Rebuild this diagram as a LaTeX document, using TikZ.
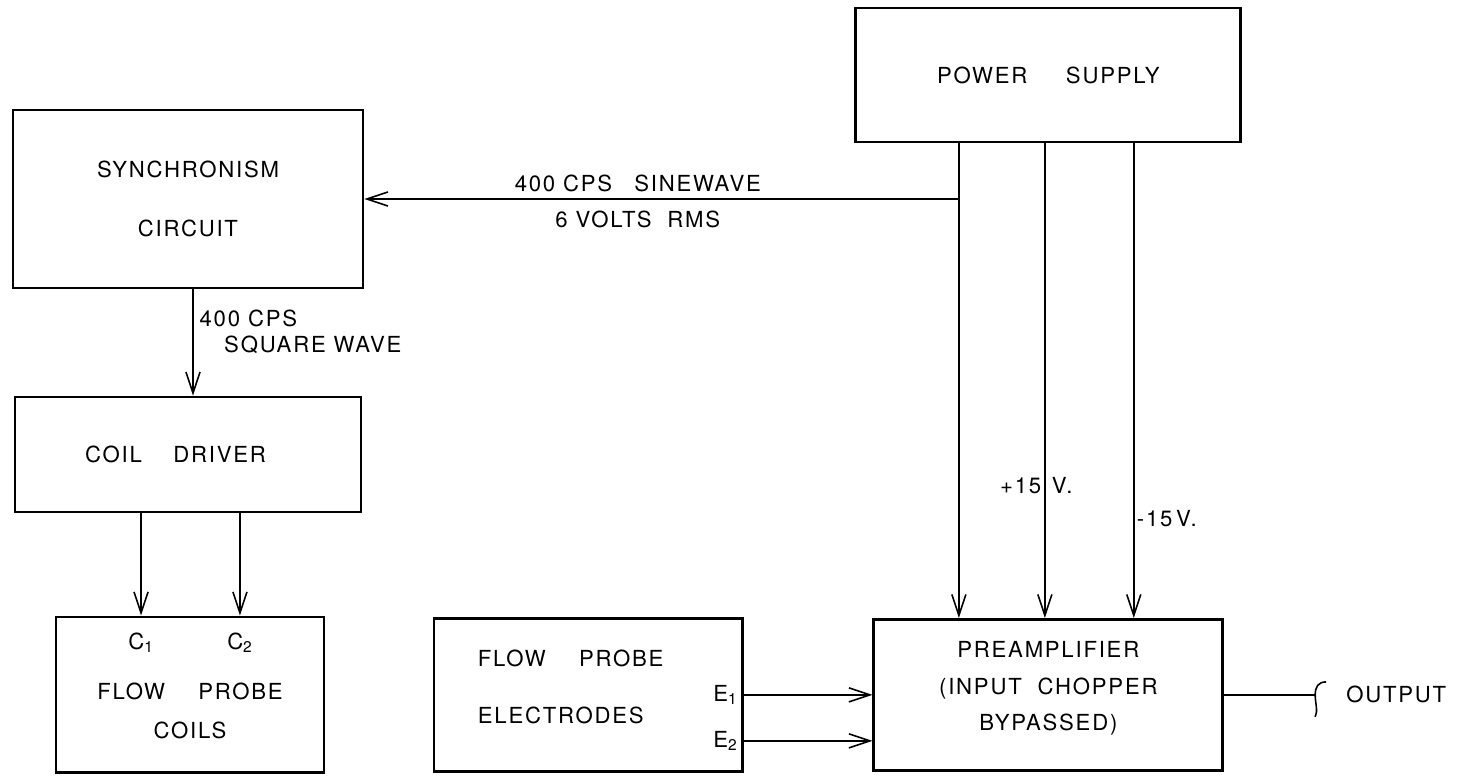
\documentclass[tikz,border=0pt]{standalone}
\usepackage{fontspec}
\setmainfont{TeX Gyre Heros}[LetterSpace=8]
\usetikzlibrary{arrows.meta,positioning}

\begin{document}
\begin{tikzpicture}[x=0.02cm, y=-0.02cm, >={Straight Barb[length=12pt,width=8pt]}, font=\fontsize{12.6}{14.5}\selectfont]
    \tikzstyle{blk}=[draw, line width=1.6pt, align=center, inner sep=0pt]
    \tikzstyle{wire}=[line width=0.9pt]
    \useasboundingbox (0,0) rectangle (1461,776);

    \node[blk, minimum width=7cm, minimum height=3.56cm] (sync) at (188,199) {SYNCHRONISM\\[19pt] CIRCUIT};
    \node[blk, below of=sync, node distance=5.11cm, minimum width=6.92cm, minimum height=2.3cm] (drv) {COIL\hspace{18pt}DRIVER\hspace*{0.5cm}};
    \node[blk, below of=drv, node distance=4.81cm, xshift=0.04cm, minimum width=5.36cm, minimum height=3.12cm, text height=50pt, text depth=0pt] (coils) {FLOW\hspace{19pt}PROBE\\[8pt] COILS};
    \node[blk, right of=coils, node distance=7.97cm, text width=4.42cm, inner xsep=0.88cm, align=left, minimum height=3.06cm, text height=0pt] (elec) {FLOW\hspace{19pt}PROBE\\[18pt] ELECTRODES};
    \node[blk, right of=elec, node distance=9.2cm, minimum width=6.98cm, minimum height=3.02cm, text height=41pt, text depth=0pt] (pre) {PREAMPLIFIER\\[7pt] (INPUT\ \ CHOPPER\\[6pt] BYPASSED)};
    \node[blk, above of=pre, node distance=12.4cm, minimum width=7.7cm, minimum height=2.68cm] (pwr) {POWER\hspace{22pt}SUPPLY};

    % supply rails
    \draw[wire, ->] ([xshift=-1.79cm]pwr.south) -- ([xshift=-1.79cm]pwr.south |- pre.north);
    \draw[wire, ->] ([xshift=-0.07cm]pwr.south) -- node[pos=0.72, xshift=-0.17cm]{+15\hspace{6pt}V.} ([xshift=-0.07cm]pwr.south |- pre.north);
    \draw[wire, ->] ([xshift=1.71cm]pwr.south) -- node[pos=0.79, right=-2pt]{-15\,V.} ([xshift=1.71cm]pwr.south |- pre.north);

    % reference signal
    \draw[wire, ->] ([xshift=-1.79cm]pwr.south |- sync.east) -- node[pos=0.54, above]{400 CPS\quad SINEWAVE} node[pos=0.54, below=3pt]{6 VOLTS\ \ RMS} (sync.east);
    \draw[wire, ->] ([xshift=0.1cm]sync.south) -- node[pos=0.4, right, align=left]{400 CPS\\ \hspace{14pt}SQUARE WAVE} ([xshift=0.1cm]sync.south |- drv.north);

    % coil leads
    \draw[wire, ->] ([xshift=-0.98cm]coils.north |- drv.south) -- ([xshift=-0.98cm]coils.north) node[below=6pt]{C\textsubscript{1}};
    \draw[wire, ->] ([xshift=1cm]coils.north |- drv.south) -- ([xshift=1cm]coils.north) node[below=6pt]{C\textsubscript{2}};

    % electrode leads
    \draw[wire, ->] (elec.east) node[left]{E\textsubscript{1}} -- (elec.east -| pre.west);
    \draw[wire, ->] ([yshift=-0.92cm]elec.east) node[left]{E\textsubscript{2}} -- ([yshift=-0.92cm]elec.east -| pre.west);

    % output
    \coordinate (brk) at ([xshift=1.82cm]pre.east);
    \draw[wire] (pre.east) -- (brk);
    \draw[wire] ([shift={(11,-13)}]brk) .. controls +(-8,0) and +(0,-8) .. (brk) .. controls +(0,8) and +(3,-6) .. ([shift={(0,22)}]brk);
    \node[right=0.5cm of brk] (out) {OUTPUT};
\end{tikzpicture}
\end{document}
